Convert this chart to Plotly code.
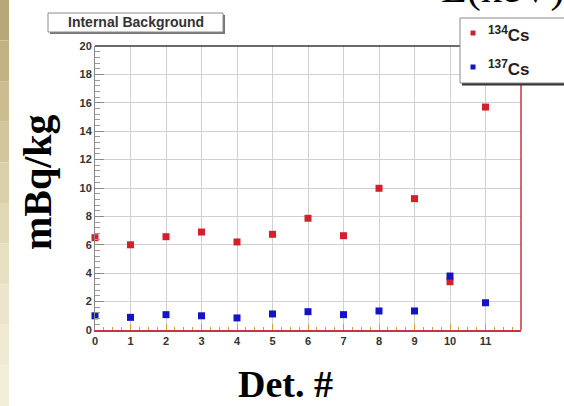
import plotly.graph_objects as go

# Detector index and measured internal background activities (mBq/kg)
detectors = list(range(12))
cs134 = [6.5, 6.0, 6.57, 6.9, 6.2, 6.74, 7.87, 6.64, 9.98, 9.25, 3.4, 15.7]
cs137 = [1.0, 0.89, 1.08, 1.0, 0.85, 1.13, 1.29, 1.08, 1.34, 1.34, 3.8, 1.92]
x_ticks = list(range(12))
y_ticks = list(range(0, 21, 2))

RED = "#d3202c"
BLUE = "#1414c4"

# plot-area geometry in pixels, used to place paper-space decorations
L, R, T, B = 95, 43, 46, 76
W, H = 564, 406
PW, PH = W - L - R, H - T - B


def px(x):
    return (x - L) / PW


def py(y):
    return (H - B - y) / PH


fig = go.Figure()
fig.add_trace(go.Scatter(x=detectors, y=cs134, mode="markers", name="134Cs",
                         marker=dict(symbol="square", size=7, color=RED),
                         cliponaxis=False, showlegend=False))
fig.add_trace(go.Scatter(x=detectors, y=cs137, mode="markers", name="137Cs",
                         marker=dict(symbol="square", size=7, color=BLUE),
                         cliponaxis=False, showlegend=False))

tick_font = dict(family="Liberation Sans, Arial", size=11, color="#333333", weight="bold")

fig.update_xaxes(range=[0, 12], tickvals=x_ticks, showgrid=True, gridcolor="#d0d0d0",
                 gridwidth=1, zeroline=False, showline=True, linecolor="#c8324a",
                 linewidth=1.5, ticks="inside", ticklen=6, tickcolor="#d9a030",
                 minor=dict(dtick=0.25, ticks="inside", ticklen=3, tickcolor="#d9a030",
                            showgrid=False),
                 tickfont=tick_font, fixedrange=True)
fig.update_yaxes(range=[0, 20], tickvals=y_ticks, showgrid=True, gridcolor="#d0d0d0",
                 gridwidth=1, zeroline=False, showline=True, linecolor="#8a8a8a",
                 linewidth=1, ticks="inside", ticklen=9, tickcolor="#8a8a8a",
                 minor=dict(dtick=0.4, ticks="inside", ticklen=5, tickcolor="#9a9a9a",
                            showgrid=False),
                 tickfont=tick_font, fixedrange=True)

shapes = []
# textured margin strip on the left edge
bands = ["#b9a877", "#c2b283", "#cbbd90", "#d3c69c", "#dad0aa", "#e1d8b6",
         "#e7dfc1", "#ece5cb", "#f0ead3", "#f3eed9"]
for i, c in enumerate(bands):
    y0 = py(i * H / len(bands))
    y1 = py((i + 1) * H / len(bands))
    shapes.append(dict(type="rect", xref="paper", yref="paper", x0=px(0), x1=px(9),
                       y0=y1, y1=y0, line=dict(width=0), fillcolor=c, layer="below"))

# frame: dark top edge and red right edge
shapes.append(dict(type="line", xref="paper", yref="paper", x0=0, x1=1, y0=1, y1=1,
                   line=dict(color="#3a3a3a", width=1.5)))
shapes.append(dict(type="line", xref="paper", yref="paper", x0=1, x1=1, y0=0, y1=1,
                   line=dict(color="#c8324a", width=1.5)))

# title box with drop shadow
shapes.append(dict(type="rect", xref="paper", yref="paper", x0=px(50), x1=px(225),
                   y0=py(34), y1=py(15), line=dict(width=0), fillcolor="#777777"))
shapes.append(dict(type="rect", xref="paper", yref="paper", x0=px(48), x1=px(223),
                   y0=py(32), y1=py(13), line=dict(color="#8a8a8a", width=1),
                   fillcolor="white"))

# legend box with shadow and swatches
shapes.append(dict(type="rect", xref="paper", yref="paper", x0=px(462), x1=px(580),
                   y0=py(85.5), y1=py(20), line=dict(width=0), fillcolor="#333333"))
shapes.append(dict(type="rect", xref="paper", yref="paper", x0=px(460), x1=px(578),
                   y0=py(83), y1=py(18), line=dict(color="#8a8a8a", width=1),
                   fillcolor="white"))
for yc, c in [(33, RED), (67, BLUE)]:
    shapes.append(dict(type="rect", xref="paper", yref="paper", x0=px(470.5), x1=px(475.5),
                       y0=py(yc + 2.5), y1=py(yc - 2.5), line=dict(width=0), fillcolor=c))

annotations = [
    dict(text="Internal Background", xref="paper", yref="paper", x=px(135.5), y=py(22.5),
         showarrow=False, xanchor="center", yanchor="middle",
         font=dict(family="Liberation Sans, Arial", size=14, color="#333333", weight="bold")),
    dict(text="<sup>134</sup>Cs", xref="paper", yref="paper", x=px(486), y=py(34),
         showarrow=False, xanchor="left", yanchor="middle",
         font=dict(family="Liberation Sans, Arial", size=17, color="#222222", weight="bold")),
    dict(text="<sup>137</sup>Cs", xref="paper", yref="paper", x=px(486), y=py(68),
         showarrow=False, xanchor="left", yanchor="middle",
         font=dict(family="Liberation Sans, Arial", size=17, color="#222222", weight="bold")),
    dict(text="mBq/kg", xref="paper", yref="paper", x=px(37), y=py(182), textangle=-90,
         showarrow=False, xanchor="center", yanchor="middle",
         font=dict(family="Liberation Serif, DejaVu Serif", size=40, color="black", weight="bold")),
    dict(text="Det. #", xref="paper", yref="paper", x=px(285), y=py(406),
         showarrow=False, xanchor="center", yanchor="bottom", borderpad=0,
         font=dict(family="Liberation Serif, DejaVu Serif", size=38, color="black", weight="bold")),
    dict(text="E(keV)", xref="paper", yref="paper", x=px(503), y=py(-12),
         showarrow=False, xanchor="center", yanchor="middle",
         font=dict(family="Liberation Serif, DejaVu Serif", size=42, color="black")),
]

fig.update_layout(width=W, height=H, margin=dict(l=L, r=R, t=T, b=B),
                  paper_bgcolor="white", plot_bgcolor="white",
                  shapes=shapes, annotations=annotations, showlegend=False)

fig.write_html("out.html", config={"displayModeBar": False})
